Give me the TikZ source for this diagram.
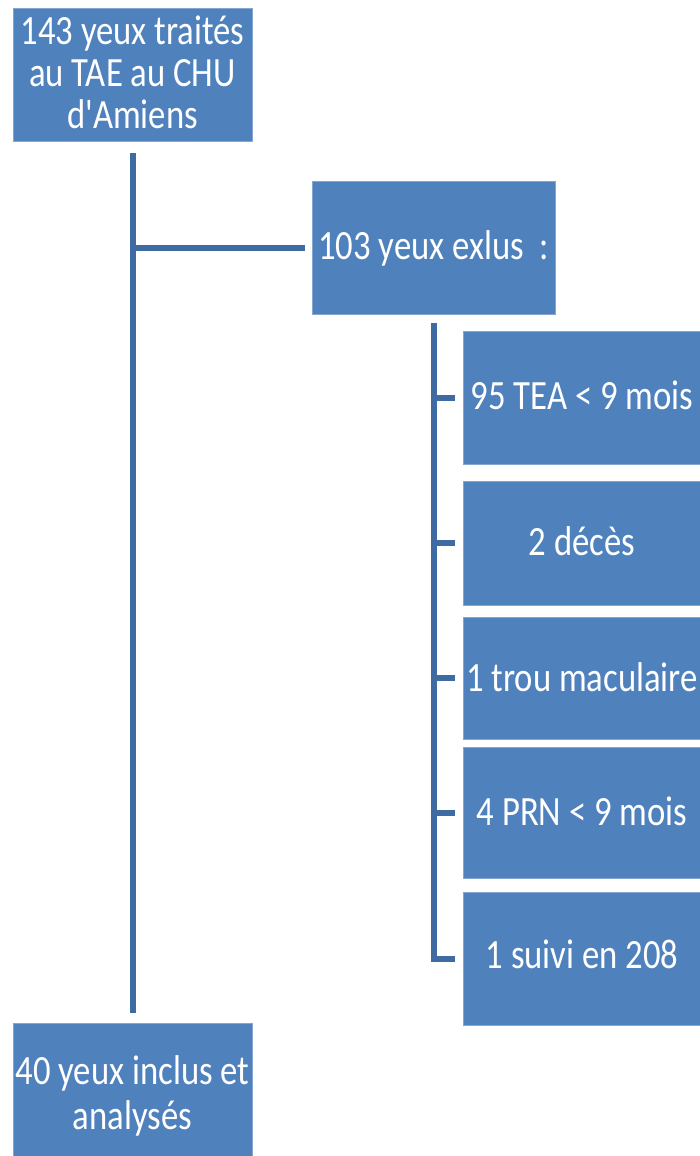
\documentclass[tikz,border=0pt]{standalone}
\usepackage{fontspec}
\usepackage{graphicx}
\setmainfont{Carlito}
\definecolor{boxblue}{RGB}{79,129,189}
\definecolor{lineblue}{RGB}{62,108,162}
\newcommand{\tall}[2][4pt]{\raisebox{-#1}[\height][\depth]{\scalebox{1}[1.2]{\begin{tabular}{@{}c@{}}#2\end{tabular}}}}
\begin{document}
\begin{tikzpicture}[x=1pt,y=-1pt,
  bx/.style={fill=boxblue, draw=boxblue!70!white, line width=0.8pt, text=white, inner sep=0pt, align=center,
    font=\fontsize{34.7}{35}\selectfont},
  conn/.style={draw=lineblue, line width=6pt}]
\useasboundingbox (0,0) rectangle (700,1156);
\begin{scope}
\clip (0,0) rectangle (700,1156);
\node[bx, minimum width=239pt, minimum height=133pt] (top) at (132.5,75) {\tall[3pt]{143 yeux traités\\au TAE au CHU\\d\textquotesingle Amiens}};
\node[bx, minimum width=243pt, minimum height=133pt] (excl) at (433.5,247.5) {\tall{103 yeux exlus\ \ :}};
\node[bx, minimum width=238pt, minimum height=133pt] (s1) at (582,397.5) {\tall{95 TEA < 9 mois}};
\node[bx, minimum width=238pt, minimum height=124pt] (s2) at (582,543) {\tall{2 décès}};
\node[bx, minimum width=238pt, minimum height=122pt] (s3) at (582,678) {\tall[5pt]{1 trou maculaire}};
\node[bx, minimum width=238pt, minimum height=131pt] (s4) at (582,812.5) {\tall[5pt]{4 PRN < 9 mois}};
\node[bx, minimum width=238pt, minimum height=133pt] (s5) at (582,958.5) {\tall[2pt]{1 suivi en 208}};
\node[bx, minimum width=239pt, minimum height=137pt] (bot) at (132.5,1091.5) {\tall[7pt]{40 yeux inclus et\\[2pt]analysés}};
\end{scope}
% main trunk
\coordinate (trunkTop) at ([yshift=-11pt]top.south);
\coordinate (trunkBot) at ([yshift=10pt]bot.north);
\draw[conn] (trunkTop) -- (trunkBot);
\draw[conn] (excl.west -| trunkTop) -- ([xshift=-7pt]excl.west);
% sub trunk
\coordinate (subTop) at ([yshift=-9pt]excl.south);
\draw[conn] (subTop) |- ([xshift=-8pt]s5.west);
\foreach \s in {s1,s2,s3,s4}{
  \draw[conn] (\s.west -| subTop) -- ([xshift=-8pt]\s.west);
}
\end{tikzpicture}
\end{document}
